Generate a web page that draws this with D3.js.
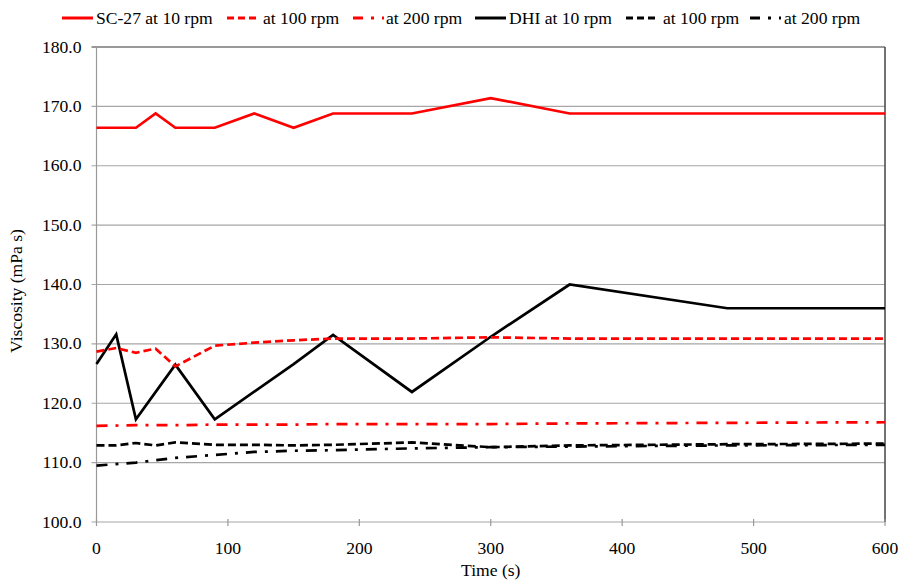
<!DOCTYPE html>
<html>
<head>
<meta charset="utf-8">
<script src="https://cdn.jsdelivr.net/npm/d3@7"></script>
<style>
  body { margin: 0; background: #fff; }
</style>
</head>
<body>
<script>
// time points (s)
var timesA = [0, 15, 30, 45, 60, 90, 120, 150, 180, 240, 300, 360, 480, 600];
var timesB = [0, 30, 60, 90, 120, 150, 180, 240, 300, 360, 480, 600];
var timesC = [0, 15, 30, 60, 90, 150, 180, 240, 300, 360, 480, 600];

// SC-27 series (mPa s)
var sc10 = [166.4, 166.4, 166.4, 168.8, 166.4, 166.4, 168.8, 166.4, 168.8, 168.8, 171.4, 168.8, 168.8, 168.8];
var sc100 = [128.7, 129.3, 128.5, 129.2, 126.2, 129.7, 130.2, 130.6, 130.9, 130.9, 131.1, 130.9, 130.9, 130.9];
var sc200 = [116.2, 116.3, 116.3, 116.4, 116.4, 116.4, 116.5, 116.5, 116.5, 116.6, 116.7, 116.8];

// DHI series (mPa s)
var dhi10 = [126.6, 131.6, 117.3, 126.5, 117.3, 126.6, 131.5, 121.9, 131.2, 140.0, 136.0, 136.0];
var dhi100 = [112.9, 112.9, 113.3, 112.9, 113.4, 113.0, 113.0, 112.9, 113.0, 113.4, 112.6, 112.9, 113.1, 113.2];
var dhi200 = [109.5, 110.0, 110.8, 111.3, 111.8, 112.0, 112.1, 112.4, 112.6, 112.7, 112.9, 113.0];

var yTicks = [100, 110, 120, 130, 140, 150, 160, 170, 180];
var xTicks = [0, 100, 200, 300, 400, 500, 600];

function pairs(ts, vs) {
  return ts.map(function(t, i) { return {t: t, v: vs[i]}; });
}

var series = [
  {name: 'SC-27 at 10 rpm', data: pairs(timesA, sc10), color: '#ff0000', dash: null},
  {name: 'at 100 rpm', data: pairs(timesA, sc100), color: '#ff0000', dash: '8,4'},
  {name: 'at 200 rpm', data: pairs(timesB, sc200), color: '#ff0000', dash: '11,8,3,8'},
  {name: 'DHI at 10 rpm', data: pairs(timesC, dhi10), color: '#000000', dash: null},
  {name: 'at 100 rpm', data: pairs(timesA, dhi100), color: '#000000', dash: '8,4'},
  {name: 'at 200 rpm', data: pairs(timesB, dhi200), color: '#000000', dash: '11,8,3,8'}
];

var width = 901, height = 581;
var margin = {left: 96.5, right: 16, top: 47, bottom: 59};
var SX = 1.1; // the reference text is a little wide

var svg = d3.select('body').append('svg')
  .attr('width', width)
  .attr('height', height);

var x = d3.scaleLinear().domain([0, 600]).range([margin.left, width - margin.right]);
var y = d3.scaleLinear().domain([100, 180]).range([height - margin.bottom, margin.top]);

// places a text at (px, py), widened a little
function label(g, px, py, str, size, anchor, rot) {
  return g.append('text')
    .attr('transform', 'translate(' + px + ',' + py + ')' + (rot ? ' rotate(' + rot + ')' : '') + ' scale(' + SX + ',1)')
    .attr('text-anchor', anchor || 'start')
    .attr('dy', '0.35em')
    .style('font-family', 'Liberation Serif')
    .style('font-size', size + 'px')
    .style('fill', '#000')
    .text(str);
}

// gridlines
svg.append('g')
  .selectAll('line')
  .data(yTicks)
  .enter()
  .append('line')
  .attr('x1', x(0) - 5)
  .attr('x2', x(600))
  .attr('y1', function(d) { return y(d); })
  .attr('y2', function(d) { return y(d); })
  .attr('stroke', function(d) { return d === 180 ? '#777' : '#a6a6a6'; })
  .attr('stroke-width', function(d) { return d === 180 ? 1.6 : 1.2; });

// right border
svg.append('line')
  .attr('x1', x(600)).attr('x2', x(600))
  .attr('y1', y(180)).attr('y2', y(100))
  .attr('stroke', '#444').attr('stroke-width', 1.5);

// left axis line
svg.append('line')
  .attr('x1', x(0)).attr('x2', x(0))
  .attr('y1', y(180)).attr('y2', y(100))
  .attr('stroke', '#999').attr('stroke-width', 1.2);

// x ticks
svg.append('g')
  .selectAll('line')
  .data(xTicks)
  .enter()
  .append('line')
  .attr('x1', function(d) { return x(d); })
  .attr('x2', function(d) { return x(d); })
  .attr('y1', y(100) - 3)
  .attr('y2', y(100) + 4)
  .attr('stroke', '#999')
  .attr('stroke-width', 1.2);

var labels = svg.append('g');

// y labels
yTicks.forEach(function(d) {
  label(labels, x(0) - 15, y(d), d3.format('.1f')(d), 16, 'end');
});

// x labels
xTicks.forEach(function(d) {
  label(labels, x(d), y(100) + 26, d, 16, 'middle');
});

// axis titles
label(labels, (x(0) + x(600)) / 2, 570, 'Time (s)', 16, 'middle');
label(labels, 16, 291, 'Viscosity (mPa s)', 16, 'middle', -90);

// lines
var line = d3.line()
  .x(function(d) { return x(d.t); })
  .y(function(d) { return y(d.v); });

svg.append('g')
  .attr('fill', 'none')
  .selectAll('path')
  .data(series.slice().reverse())
  .enter()
  .append('path')
  .attr('d', function(d) { return line(d.data); })
  .attr('stroke', function(d) { return d.color; })
  .attr('stroke-width', 2.7)
  .attr('stroke-dasharray', function(d) { return d.dash; });

// legend
var legendX = [62, 227, 353, 475, 626, 750];
var legendTextX = [96, 263, 386, 509, 663, 784];
var lg = svg.append('g');
series.forEach(function(s, i) {
  lg.append('line')
    .attr('x1', legendX[i])
    .attr('x2', legendX[i] + 31)
    .attr('y1', 18)
    .attr('y2', 18)
    .attr('stroke', s.color)
    .attr('stroke-width', 3)
    .attr('stroke-dasharray', s.dash ? (s.dash === '8,4' ? '7,4' : '10,8,3,8') : null);
  label(lg, legendTextX[i], 18, s.name, 16, 'start');
});
</script>
</body>
</html>
